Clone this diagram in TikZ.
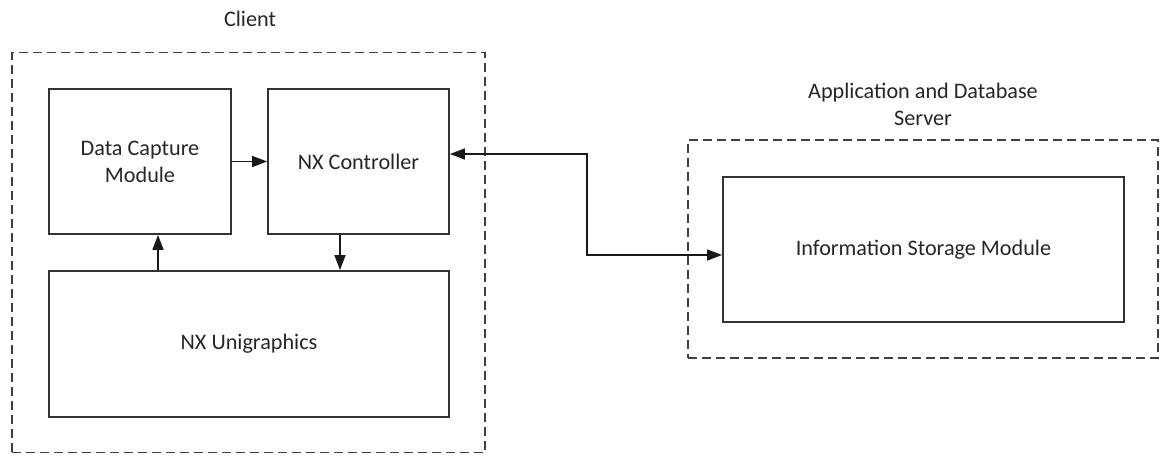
\documentclass[tikz,border=0pt]{standalone}
\usepackage{fontspec}
\setmainfont{Carlito}
\usetikzlibrary{arrows.meta}
\begin{document}
\begin{tikzpicture}[x=1pt,y=-1pt,
  box/.style={draw=black!80, line width=1.8pt, inner sep=0pt, align=center},
  grp/.style={draw=black!75, line width=1.8pt, dash pattern=on 9pt off 5pt, inner sep=0pt},
  lbl/.style={align=center, text=black!85},
  arr/.style={draw=black!90, line width=1.4pt, -{Triangle[length=15pt,width=11pt]}},
  darr/.style={draw=black!90, line width=1.4pt, {Triangle[length=15pt,width=11pt]}-{Triangle[length=15pt,width=11pt]}},
  font=\fontsize{22.2}{27}\selectfont, text=black!85]
\useasboundingbox (0,0) rectangle (1161,455);
\node[grp, minimum width=473pt, minimum height=400pt] (client) at (248.5,252.5) {};
\node[grp, minimum width=470pt, minimum height=218pt] (server) at (923,249) {};
\node[lbl] (clientlbl) at (250,19) {Client};
\node[lbl] (serverlbl) at (923,104) {Application and Database\\Server};
\node[box, minimum width=182pt, minimum height=145pt] (dc) at (140,161.5) {Data Capture\\Module};
\node[box, minimum width=181pt, minimum height=145pt] (nxc) at (358.5,161.5) {NX Controller};
\node[box, minimum width=400pt, minimum height=146pt] (nxu) at (249,344) {NX Unigraphics};
\node[box, minimum width=401pt, minimum height=145pt] (ism) at (923.5,249.5) {Information Storage Module};
\draw[arr] (dc.east) -- (nxc.west);
\draw[arr] (158,0 |- nxu.north) -- (158,0 |- dc.south);
\draw[arr] (340,0 |- nxc.south) -- (340,0 |- nxu.north);
\draw[darr] (nxc.east |- 0,154) -- (587,154) -- (587,255) -- (ism.west |- 0,255);
\end{tikzpicture}
\end{document}
